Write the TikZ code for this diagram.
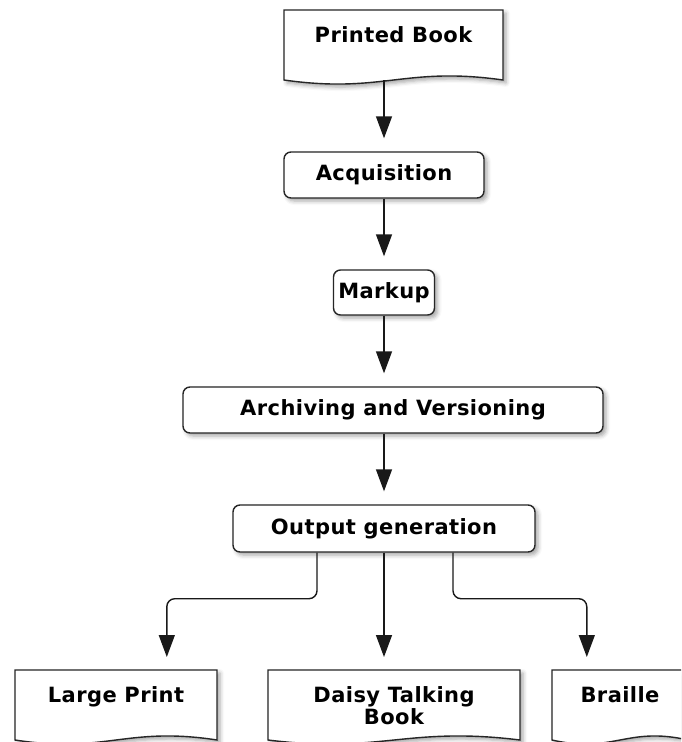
\documentclass[tikz,border=0pt]{standalone}
\usepackage{fontspec}
\setmainfont{DejaVu Sans}[LetterSpace=2]
\usetikzlibrary{calc,arrows.meta,shadows.blur}
\def\boxfont{\bfseries\fontsize{21}{22}\selectfont}
% document sheet: centre x, top y, width (height 70)
\def\docshape(#1,#2,#3){\draw[docline] ({#1-#3/2},#2) -- ({#1+#3/2},#2) -- ({#1+#3/2},{#2+70})
    .. controls ({#1+0.05*#3},{#2+56}) and ({#1-0.05*#3},{#2+84}) .. ({#1-#3/2},{#2+70}) -- cycle;}
\tikzset{
  softshadow/.style={blur shadow={shadow xshift=3pt, shadow yshift=-3pt, shadow blur radius=4pt, shadow opacity=35}},
  rbox/.style={draw=black!85, line width=1.4pt, rounded corners=7pt, fill=white, softshadow, inner sep=0pt, font=\boxfont},
  docbox/.style={inner sep=0pt, text height=32pt, text depth=38pt, anchor=north, font=\boxfont},
  docline/.style={draw=black!85, line width=1.4pt, fill=white, softshadow},
  flow/.style={line width=1.4pt, draw=black!90, -{Triangle[width=16pt,length=22pt]}, shorten >=13pt}
}
\begin{document}
\begin{tikzpicture}[x=1pt, y=-1pt]
		\useasboundingbox (0,0) rectangle (681,742);
		\clip (0,0) rectangle (681,742);
		
		%%%%% source %%%%%
		\docshape(393.5,10,219)
		\node[docbox, minimum width=219pt] (book) at (393.5,10) {Printed Book};
		
		%%%%% chain %%%%%
		\node[rbox, minimum width=200pt, minimum height=46pt] (acq) at (384,175) {Acquisition};
		\node[rbox, minimum width=101pt, minimum height=45pt] (markup) at (384,292.5) {Markup};
		\node[rbox, minimum width=420pt, minimum height=46pt] (archive) at (393,410) {Archiving and Versioning};
		\node[rbox, minimum width=302pt, minimum height=47pt] (output) at (384,528.5) {Output generation};
		
		%%%%% outputs %%%%%
		\docshape(116,670,202)
		\docshape(394,670,252)
		\docshape(620,670,136)
		\node[docbox, minimum width=202pt] (large) at (116,670) {Large Print};
		\node[docbox, minimum width=252pt] (daisy) at (394,670) {\begin{tabular}[t]{@{}c@{}}Daisy Talking\\Book\end{tabular}};
		\node[docbox, minimum width=136pt] (braille) at (620,670) {Braille};
		
		%%%%% arrows %%%%%
		\draw[flow] (book.south -| acq.north) -- (acq.north);
		\draw[flow] (acq.south) -- (markup.north);
		\draw[flow] (markup.south) -- (markup.south |- archive.north);
		\draw[flow] (archive.south -| output.north) -- (output.north);
		\draw[flow] (output.south) -- (output.south |- daisy.north);
		
		\coordinate (out l) at ($(output.south)+(-67,0)$);
		\coordinate (out r) at ($(output.south)+(69,0)$);
		\coordinate (large in) at ($(large.north west)+(152,0)$);
		\coordinate (braille in) at ($(braille.north west)+(35,0)$);
		\draw[flow, rounded corners=8pt] (out l) -- ++(0,46) -| (large in);
		\draw[flow, rounded corners=8pt] (out r) -- ++(0,46) -| (braille in);
\end{tikzpicture}
\end{document}
